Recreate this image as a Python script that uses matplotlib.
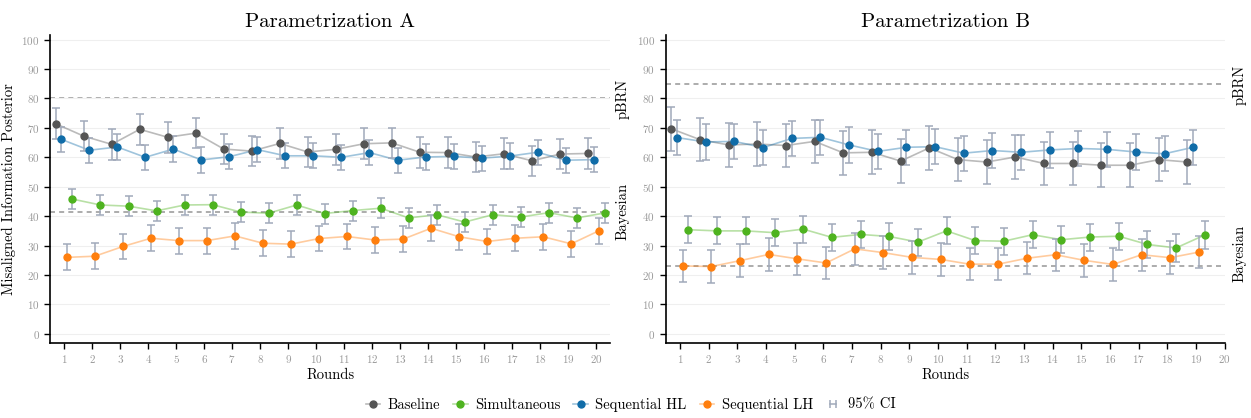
import matplotlib
matplotlib.use("Agg")
import matplotlib.pyplot as plt
import matplotlib.transforms as mtransforms
from matplotlib.colors import to_rgb
from matplotlib.lines import Line2D
from matplotlib.legend_handler import HandlerLine2D

plt.rcParams["font.family"] = "cmr10"
plt.rcParams["axes.formatter.use_mathtext"] = True

rounds_a = list(range(1, 21))
rounds_b = list(range(1, 20))

# Parametrization A
baseline_a = [71.4, 67.2, 64.4, 69.5, 66.8, 68.2, 62.8, 62.1, 64.7, 61.8,
              62.7, 64.6, 64.9, 61.7, 61.6, 60.1, 61.2, 58.8, 61.1, 61.3]
simult_a = [45.8, 43.8, 43.4, 41.8, 43.8, 43.9, 41.4, 41.0, 43.8, 40.9,
            41.9, 42.7, 39.4, 40.5, 38.0, 40.5, 39.7, 41.2, 39.4, 41.1]
seq_hl_a = [66.1, 62.4, 63.5, 60.0, 62.8, 59.1, 60.2, 62.6, 60.5, 60.5,
            60.0, 61.6, 59.0, 60.1, 60.3, 59.7, 60.4, 61.7, 59.0, 59.2]
seq_lh_a = [26.0, 26.4, 29.7, 32.5, 31.7, 31.7, 33.3, 30.8, 30.5, 32.4,
            33.1, 31.9, 32.2, 35.9, 33.0, 31.4, 32.5, 33.0, 30.6, 35.1]

# Parametrization B
baseline_b = [69.7, 66.0, 64.2, 64.5, 64.0, 65.4, 61.5, 61.7, 58.7, 63.2,
              59.2, 58.4, 60.1, 57.9, 57.9, 57.3, 57.3, 59.2, 58.4]
simult_b = [35.4, 35.0, 35.0, 34.4, 35.6, 32.8, 33.8, 33.1, 31.2, 35.0,
            31.7, 31.5, 33.7, 32.0, 32.9, 33.2, 30.4, 29.2, 33.6]
seq_hl_b = [66.7, 65.2, 65.4, 63.3, 66.4, 66.8, 64.2, 62.0, 63.4, 63.6,
            61.4, 62.3, 61.7, 62.5, 63.0, 62.7, 61.8, 61.2, 63.4]
seq_lh_b = [23.1, 22.9, 24.9, 27.0, 25.5, 24.1, 28.9, 27.6, 26.0, 25.3,
            23.7, 23.7, 25.7, 26.9, 25.0, 23.6, 26.9, 25.9, 27.8]

# 95% CI half widths per condition
ci_a = {"Baseline": 5.2, "Simultaneous": 3.4, "Sequential HL": 4.3, "Sequential LH": 4.4}
ci_b = {"Baseline": 7.4, "Simultaneous": 4.6, "Sequential HL": 6.0, "Sequential LH": 5.5}

# theoretical benchmarks
pbrn_a, bayes_a = 80, 41.4
pbrn_b, bayes_b = 85, 23

labels = ["Baseline", "Simultaneous", "Sequential HL", "Sequential LH"]
colors = {"Baseline": "#555555", "Simultaneous": "#4eb31f",
          "Sequential HL": "#106ca8", "Sequential LH": "#ff7f0e"}
dodge = {"Baseline": -0.3, "Sequential HL": -0.1, "Sequential LH": 0.1, "Simultaneous": 0.3}
err_color = "#a0a9ba"
ref_color = "#9e9e9e"

fig = plt.figure(figsize=(12.51, 4.18), dpi=100)
ax1 = fig.add_axes([0.040, 0.180, 0.448, 0.736])
ax2 = fig.add_axes([0.532, 0.180, 0.447, 0.736])


def draw_panel(ax, rounds, data, ci, pbrn, bayes, pbrn_pos, bayes_pos, xmax, title, lab_x):
    for name in labels:
        c = colors[name]
        xs = [r + dodge[name] for r in rounds]
        ys = data[name]
        ax.plot(xs, ys, color=to_rgb(c) + (0.4,), lw=1.2, zorder=1)
        ax.errorbar(xs, ys, yerr=ci[name], fmt="none", ecolor=err_color,
                    elinewidth=1.1, capsize=2.6, capthick=1.1, zorder=2)
        ax.plot(xs, ys, "o", color=c, ms=5, mec=c, zorder=3)
    ax.axhline(pbrn, color=ref_color, ls=(0, (3, 2.5)), lw=1.2, zorder=0.5)
    ax.axhline(bayes, color=ref_color, ls=(0, (3, 2.5)), lw=1.2, zorder=0.5)
    trans = mtransforms.blended_transform_factory(ax.transAxes, ax.transData)
    ax.text(lab_x, pbrn_pos, "pBRN", rotation=90, transform=trans,
            ha="center", va="center", fontsize=10.5)
    ax.text(lab_x, bayes_pos, "Bayesian", rotation=90, transform=trans,
            ha="center", va="center", fontsize=10.5)

    ax.set_xlim(0.5, xmax)
    ax.set_ylim(-3, 101.5)
    ax.set_xticks(range(1, 21))
    ax.set_yticks(range(0, 101, 10))
    ax.grid(axis="y", color="#efefef", lw=0.8, zorder=0)
    ax.set_axisbelow(True)
    for s in ["top", "right"]:
        ax.spines[s].set_visible(False)
    for s in ["left", "bottom"]:
        ax.spines[s].set_linewidth(1.2)
    ax.tick_params(axis="both", labelsize=8, labelcolor="#999999",
                   length=4, width=1, color="black")
    ax.set_title(title, fontsize=15, pad=6)
    ax.set_xlabel("Rounds", fontsize=10.5, labelpad=2)


data_a = {"Baseline": baseline_a, "Simultaneous": simult_a,
          "Sequential HL": seq_hl_a, "Sequential LH": seq_lh_a}
data_b = {"Baseline": baseline_b, "Simultaneous": simult_b,
          "Sequential HL": seq_hl_b, "Sequential LH": seq_lh_b}

draw_panel(ax1, rounds_a, data_a, ci_a, pbrn_a, bayes_a, 80, 41.5, 20.5,
           "Parametrization A", 1.021)
draw_panel(ax2, rounds_b, data_b, ci_b, pbrn_b, bayes_b, 84.5, 27.5, 20,
           "Parametrization B", 1.027)
ax1.set_ylabel("Misaligned Information Posterior", fontsize=10.5, labelpad=4)

handles = []
for name in labels:
    c = colors[name]
    handles.append(Line2D([0], [0], color=to_rgb(c) + (0.4,), lw=1.2,
                          marker="o", ms=5, mfc=c, mec=c))
ci_handle = Line2D([0], [0], color=err_color, lw=1.1, marker="|", ms=6, mew=1.1)
handles.append(ci_handle)
fig.legend(handles, labels + ["95% CI"], loc="center", bbox_to_anchor=(0.504, 0.032),
           ncol=5, frameon=False, fontsize=10.5, handlelength=1.0,
           handletextpad=0.5, columnspacing=0.9,
           handler_map={ci_handle: HandlerLine2D(numpoints=2)})

fig.savefig("out.png", dpi=100)
